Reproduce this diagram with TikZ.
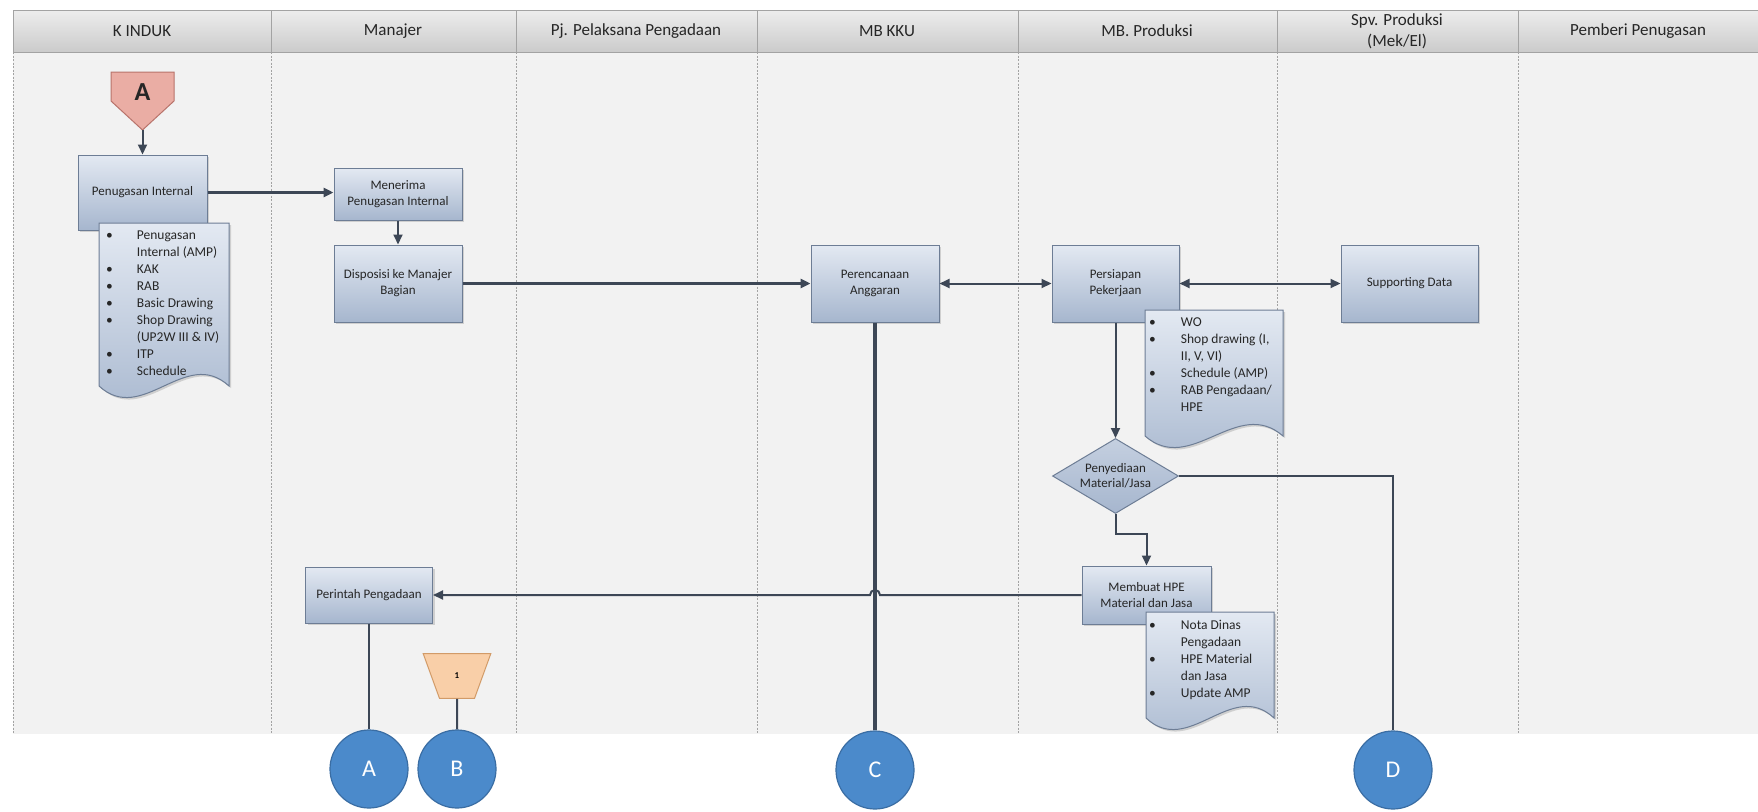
\documentclass[tikz,border=0pt]{standalone}
\usepackage{fontspec}
\setmainfont{Carlito}
\usetikzlibrary{shapes.geometric,arrows.meta,shadows}

\definecolor{lanebg}{HTML}{F2F2F2}
\definecolor{headtop}{HTML}{EDEDED}
\definecolor{headbot}{HTML}{CBCBCB}
\definecolor{laneline}{HTML}{A3A3A3}
\definecolor{boxtop}{HTML}{E3E9F2}
\definecolor{boxbot}{HTML}{A6B6CE}
\definecolor{boxline}{HTML}{6D7D95}
\definecolor{flowc}{HTML}{3D4756}
\definecolor{conn}{HTML}{4B8ACB}
\definecolor{connline}{HTML}{3A6DA3}
\definecolor{offpink}{HTML}{EAADA4}
\definecolor{offline}{HTML}{B8736B}
\definecolor{pageor}{HTML}{F9CFA8}
\definecolor{pageline}{HTML}{D29B68}

\tikzset{
  lanehead/.style={font=\fontsize{17}{21}\selectfont, text=black!85, align=center},
  procbox/.style={draw=boxline, line width=1pt, top color=boxtop, bottom color=boxbot,
    align=center, inner sep=2pt, text=black!85, font=\fontsize{13}{16}\selectfont,
    drop shadow={opacity=.3, shadow xshift=2pt, shadow yshift=-2pt}},
  decbox/.style={diamond, draw=boxline, line width=1pt, top color=boxtop!50!boxbot,
    bottom color=boxbot, align=center, inner sep=-3pt, text=black!85,
    font=\fontsize{13}{15}\selectfont},
  doctext/.style={anchor=north west, inner sep=0pt, text=black!85,
    font=\fontsize{13.5}{17}\selectfont},
  onpage/.style={circle, draw=connline, line width=1.2pt, fill=conn, minimum size=78pt,
    text=white, font=\fontsize{24}{24}\selectfont},
  flowline/.style={draw=flowc, line width=2pt},
}

% document sheet with a wavy foot
\newcommand{\docsheet}[4]{%
  \path[draw=boxline, line width=1pt, top color=boxtop, bottom color=boxbot,
    drop shadow={opacity=.3, shadow xshift=2pt, shadow yshift=-2pt}]
    (#1,#2) -- (#3,#2) -- (#3,#4)
    .. controls ({#3-(#3-#1)/3},{#4-40}) and ({#1+(#3-#1)/3},{#4+40}) .. (#1,#4) -- cycle;}

\begin{document}
\begin{tikzpicture}[x=1pt,y=-1pt,>={Triangle[length=10pt,width=9pt]}]
\useasboundingbox (0,0) rectangle (1758,811);
\fill[white] (0,0) rectangle (1758,811);

% swimlanes
\fill[lanebg] (13,52) rectangle (1758,734);
\shade[top color=headtop, bottom color=headbot] (13,10) rectangle (1758,52);
\draw[laneline, line width=1pt] (13,10) -- (1758,10) (13,52) -- (1758,52);
\foreach \lx in {13,271,516,757,1018,1277,1518}
 {
   \draw[laneline, line width=1pt] (\lx,10) -- (\lx,52);
   \draw[laneline, line width=.8pt, dash pattern=on 2pt off 1.5pt] (\lx,52) -- (\lx,734);
 }
\foreach \cx/\lbl in {142/K INDUK, 393/Manajer, 636/Pj. Pelaksana Pengadaan, 887/MB KKU,
  1147/MB. Produksi, 1397/{Spv. Produksi\\(Mek/El)}, 1638/Pemberi Penugasan}
  \node[lanehead] (head\cx) at (\cx,31) {\lbl};

% K INDUK
\draw[offline, fill=offpink, line width=1pt] (111,72) -- (174,72) -- (174,101) -- (142.5,130) -- (111,101) -- cycle;
\node[font=\bfseries\fontsize{26}{26}\selectfont, text=black!85] (offA) at (142.5,92) {A};
\coordinate (offAtip) at (142.5,130);
\node[procbox, minimum width=129pt, minimum height=75pt] (tugas) at (142.5,192.5) {Penugasan Internal};
\docsheet{99}{223}{229}{386}
\node[doctext] (tugasdoc) at (106,227) {\begin{tabular}{@{}l@{\hspace{24pt}}l@{}}
  \textbullet & Penugasan\\ & Internal (AMP)\\ \textbullet & KAK\\ \textbullet & RAB\\
  \textbullet & Basic Drawing\\ \textbullet & Shop Drawing\\ & (UP2W III \& IV)\\
  \textbullet & ITP\\ \textbullet & Schedule\end{tabular}};

% Manajer
\node[procbox, minimum width=128pt, minimum height=52pt] (terima) at (398,194) {Menerima\\Penugasan Internal};
\node[procbox, minimum width=128pt, minimum height=77pt] (dispo) at (398,283.5) {Disposisi ke Manajer\\Bagian};
\node[procbox, minimum width=127pt, minimum height=56pt] (perintah) at (369,595) {Perintah Pengadaan};
\node[trapezium, trapezium left angle=70, trapezium right angle=70, shape border rotate=180,
  draw=pageline, fill=pageor, line width=1pt, minimum width=68pt, minimum height=42pt, inner sep=0pt,
  font=\bfseries\fontsize{9}{9}\selectfont] (pageone) at (457,676) {1};

% MB KKU
\node[procbox, minimum width=128pt, minimum height=77pt] (rencana) at (875,283.5) {Perencanaan\\Anggaran};

% MB. Produksi
\node[procbox, minimum width=127pt, minimum height=77pt] (siap) at (1115.5,283.5) {Persiapan\\Pekerjaan};
\docsheet{1145}{310}{1283}{436}
\node[doctext] (siapdoc) at (1149,314) {\begin{tabular}{@{}l@{\hspace{25pt}}l@{}}
  \textbullet & WO\\ \textbullet & Shop drawing (I,\\ & II, V, VI)\\
  \textbullet & Schedule (AMP)\\ \textbullet & RAB Pengadaan/\\ & HPE\end{tabular}};
\node[decbox, minimum width=126pt, minimum height=75pt, shape aspect=1.7] (sedia) at (1115.5,476) {Penyediaan\\Material/Jasa};
\node[procbox, minimum width=129pt, minimum height=58pt] (buat) at (1146.5,595) {Membuat HPE\\Material dan Jasa};
\docsheet{1146}{612}{1274}{718}
\node[doctext] (buatdoc) at (1149,617) {\begin{tabular}{@{}l@{\hspace{25pt}}l@{}}
  \textbullet & Nota Dinas\\ & Pengadaan\\ \textbullet & HPE Material\\ & dan Jasa\\
  \textbullet & Update AMP\end{tabular}};

% Spv. Produksi
\node[procbox, minimum width=137pt, minimum height=77pt] (supdata) at (1409.5,283.5) {Supporting Data};

% connectors to next page
\node[onpage] (cA) at (369,769) {A};
\node[onpage] (cB) at (457,769) {B};
\node[onpage] (cC) at (875,770) {C};
\node[onpage] (cD) at (1393,770) {D};

% flow
\draw[flowline, ->] (offAtip) -- (tugas.north);
\draw[flowline, line width=3.5pt, ->] (tugas.east) -- (tugas.east -| terima.west);
\draw[flowline, ->] (terima) -- (dispo);
\draw[flowline, line width=2.5pt, ->] (dispo) -- (rencana);
\draw[flowline, <->] (rencana) -- (siap);
\draw[flowline, <->] (siap) -- (supdata);
\draw[flowline, ->] (siap) -- (sedia);
\draw[flowline, ->] (sedia.south) -- ++(0,20) -| (buat.north);
\draw[flowline, line width=1.5pt] (sedia.east) -| (cD.north);
\draw[flowline, line width=3.5pt] (rencana.south) -- (cC.north);
\draw[flowline, ->] (buat.west) -- ([xshift=5pt]rencana.south |- buat.west)
  arc[start angle=0, end angle=180, radius=5pt] -- (perintah.east);
\draw[flowline] (perintah) -- (cA);
\draw[flowline] (pageone) -- (cB);
\end{tikzpicture}
\end{document}
